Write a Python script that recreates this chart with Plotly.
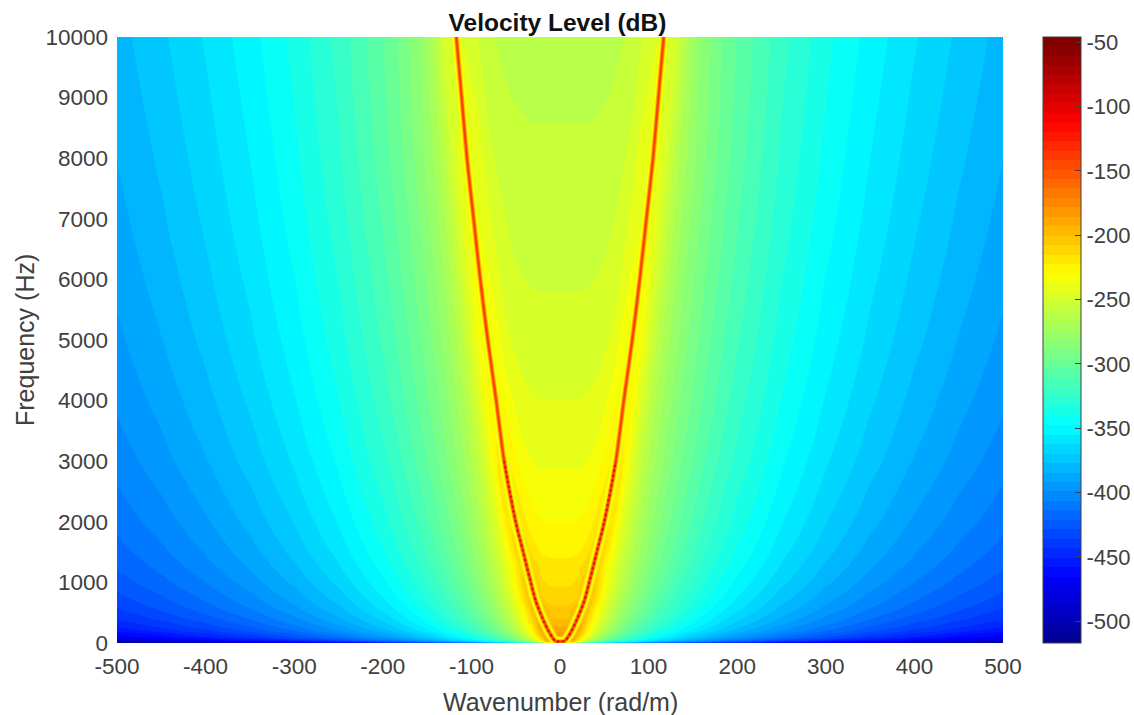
import plotly.graph_objects as go

# wavenumber columns (rad/m), non-negative half; the picture is mirror symmetric
k_half = [0, 5, 10, 20, 30, 40, 50, 60, 70, 80, 90, 100, 110, 120, 130, 140, 155, 170, 185, 200, 250, 300, 350, 400, 450, 500]
freq = [0, 16, 50, 100, 200, 280, 400, 550, 700, 1000, 1250, 1500, 2000, 3000, 4000, 5000, 6500, 8000, 10000]

# level (dB), one list per frequency
lv_0 = [-180, -200, -280, -340, -370, -390, -405, -415, -425, -430, -436, -440, -444, -447, -450, -453, -457, -460, -463, -466, -477, -485, -493, -500, -507, -514]
lv_16 = [-141, -125, -183.2, -240.4, -273.9, -297.6, -316, -331, -343.8, -354.8, -364.5, -373.2, -381.1, -388.2, -394.8, -401, -409.4, -417, -424, -430.4, -448.8, -463.8, -476.6, -487.6, -497.3, -506]
lv_50 = [-163, -160, -150, -217.4, -251.4, -275.1, -293.5, -308.5, -321.3, -332.3, -342, -350.7, -358.6, -365.7, -372.3, -378.5, -386.9, -394.5, -401.5, -407.9, -426.3, -441.3, -454.1, -465.1, -474.8, -483.5]
lv_100 = [-176, -175.5, -158, -202.5, -237.4, -261.6, -280, -295, -307.8, -318.8, -328.5, -337.2, -345.1, -352.2, -358.8, -365, -373.4, -381, -388, -394.4, -412.8, -427.8, -440.6, -451.6, -461.3, -470]
lv_200 = [-188, -188, -179, -187, -222.5, -247.5, -266.5, -281.5, -294.3, -305.3, -315, -323.7, -331.6, -338.7, -345.3, -351.5, -359.9, -367.5, -374.5, -380.9, -399.3, -414.3, -427.1, -438.1, -447.8, -456.5]
lv_280 = [-194.5, -194.5, -190.5, -178, -216.4, -240.9, -259.9, -274.9, -287.7, -298.7, -308.4, -317.1, -325, -332.1, -338.7, -344.9, -353.3, -360.9, -367.9, -374.3, -392.7, -407.7, -420.5, -431.5, -441.2, -449.9]
lv_400 = [-201, -201, -200.5, -184, -207, -232.2, -252, -267.5, -280.8, -291.8, -301.5, -310.2, -318.1, -325.2, -331.8, -338, -346.4, -354, -361, -367.4, -385.8, -400.8, -413.6, -424.6, -434.3, -443]
lv_550 = [-205.7, -205.7, -205.2, -190.7, -195, -225.7, -245.6, -261.1, -274.5, -285.5, -295.2, -303.9, -311.8, -318.9, -325.5, -331.7, -340.1, -347.7, -354.7, -361.1, -379.5, -394.5, -407.3, -418.3, -428, -436.7]
lv_700 = [-210.5, -210.5, -210.4, -206.5, -192.5, -214.6, -239, -255.6, -269, -280.3, -290.2, -299.2, -307.1, -314.2, -320.8, -327, -335.4, -343, -350, -356.4, -374.8, -389.8, -402.6, -413.6, -423.3, -432]
lv_1000 = [-216.5, -216.5, -216.5, -214.2, -199, -205, -228.8, -247.3, -261.4, -272.9, -283, -291.9, -300.1, -307.2, -313.8, -320, -328.4, -336, -343, -349.4, -367.8, -382.8, -395.6, -406.6, -416.3, -425]
lv_1250 = [-220.5, -220.5, -220.5, -218.6, -208.7, -202.5, -223.6, -242.6, -256.9, -268.5, -278.6, -287.5, -295.7, -302.8, -309.4, -315.6, -324, -331.6, -338.6, -345, -363.4, -378.4, -391.2, -402.2, -411.9, -420.6]
lv_1500 = [-224, -224, -224, -223.2, -219.4, -206, -212, -234.3, -251.1, -263.8, -274.2, -283.3, -291.6, -298.9, -305.8, -312, -320.4, -328, -335, -341.4, -359.8, -374.8, -387.6, -398.6, -408.3, -417]
lv_2000 = [-230, -230, -230, -229.6, -227.5, -221.1, -212, -219.5, -242.3, -256.4, -267.6, -277.2, -285.6, -293, -299.9, -306.2, -314.9, -322.5, -329.5, -335.9, -354.3, -369.3, -382.1, -393.1, -402.8, -411.5]
lv_3000 = [-238.5, -238.5, -238.5, -238.5, -237.5, -235.1, -229, -220.5, -220.5, -241.3, -256, -267, -276.1, -284.1, -291.2, -297.7, -306.4, -314.2, -321.5, -327.9, -346.3, -361.3, -374.1, -385.1, -394.8, -403.5]
lv_4000 = [-244.5, -244.5, -244.5, -244.5, -244, -242.6, -239.5, -232.7, -226.5, -226.5, -243.9, -257.9, -268.4, -277.1, -284.5, -291.4, -300.3, -308.3, -315.5, -322, -340.7, -355.7, -368.5, -379.5, -389.2, -397.9]
lv_5000 = [-249.5, -249.5, -249.5, -249.5, -249.3, -248.4, -246.6, -243.2, -235, -231, -231, -247, -261, -270.7, -278.7, -286, -295.3, -303.5, -310.8, -317.4, -336.3, -351.3, -364.1, -375.1, -384.8, -393.5]
lv_6500 = [-254.2, -254.2, -254.2, -254.2, -254.2, -253.7, -252.7, -250.7, -246.8, -239.7, -236, -236, -247, -260, -270.6, -278.7, -288.8, -297.4, -305, -311.8, -330.9, -346.2, -359, -370, -379.7, -388.4]
lv_8000 = [-257.9, -257.9, -257.9, -257.9, -257.9, -257.5, -256.9, -255.4, -253.3, -249.7, -242, -240, -240, -248.2, -262, -271.7, -283, -292.4, -300.4, -307.3, -326.8, -342.2, -355, -366, -375.7, -384.4]
lv_10000 = [-263, -263, -263, -263, -263, -262.8, -262.5, -261.7, -260, -258, -254, -247.3, -245, -245, -246.8, -263, -279, -288, -297, -304, -323, -338, -350.6, -361.6, -371.3, -380]

rows = [lv_0, lv_16, lv_50, lv_100, lv_200, lv_280, lv_400, lv_550, lv_700, lv_1000, lv_1250, lv_1500, lv_2000,
        lv_3000, lv_4000, lv_5000, lv_6500, lv_8000, lv_10000]

# the sharp resonance ridge
ridge_f = [10000, 9000, 8000, 7000, 6000, 5000, 4000, 3000, 2000, 1500, 1000, 700, 400, 200, 100, 50, 30]
ridge_k = [117, 111, 105, 97.5, 90, 81.5, 72, 63, 50, 41.5, 33, 27.5, 19.5, 13, 9, 6.5, 4.5]

x_ticks = [-500, -400, -300, -200, -100, 0, 100, 200, 300, 400, 500]
y_ticks = [0, 1000, 2000, 3000, 4000, 5000, 6000, 7000, 8000, 9000, 10000]
cbar_ticks = [-50, -100, -150, -200, -250, -300, -350, -400, -450, -500]

jet = [[0, "rgb(0,0,143)"], [0.111, "rgb(0,0,255)"], [0.365, "rgb(0,255,255)"],
       [0.619, "rgb(255,255,0)"], [0.873, "rgb(255,0,0)"], [1, "rgb(128,0,0)"]]

k_all = [-v for v in k_half[:0:-1]] + k_half
z_all = [r[:0:-1] + r for r in rows]

FONT = "Liberation Sans, Arial, sans-serif"
GREY = "#404040"

fig = go.Figure()
fig.add_trace(go.Contour(
    x=k_all, y=freq, z=z_all, colorscale=jet, zmin=-517, zmax=-46, autocontour=False,
    contours=dict(start=-517, end=-46, size=7.36, coloring="fill", showlines=False),
    line=dict(width=0, smoothing=1.3), hoverinfo="skip",
    colorbar=dict(x=(1043 - 117) / 886, xanchor="left", y=0.5, yanchor="middle", len=1, lenmode="fraction",
                  thickness=38, thicknessmode="pixels", outlinecolor=GREY, outlinewidth=1,
                  tickmode="array", tickvals=cbar_ticks, ticktext=[str(v) for v in cbar_ticks],
                  ticks="inside", ticklen=6, tickcolor=GREY, tickwidth=1,
                  tickfont=dict(family=FONT, size=22, color=GREY), xpad=0, ypad=0),
))

ridge_x = [-v for v in ridge_k] + ridge_k[::-1]
ridge_y = ridge_f + ridge_f[::-1]
for width, colour in [(11, "rgba(225,255,20,0.6)"), (8, "rgb(255,255,0)"), (5, "rgb(255,195,0)"),
                      (3.2, "rgb(255,110,0)"), (1.6, "rgb(250,60,0)")]:
    fig.add_trace(go.Scatter(x=ridge_x, y=ridge_y, mode="lines", hoverinfo="skip", showlegend=False,
                             line=dict(color=colour, width=width, shape="spline", smoothing=0.8)))
# the sampled ridge shows as dark red dots near the bottom
fig.add_trace(go.Scatter(x=ridge_x[7:-7], y=ridge_y[7:-7], mode="lines", hoverinfo="skip", showlegend=False,
                         line=dict(color="rgb(215,25,0)", width=2.4, shape="spline", smoothing=0.8,
                                   dash="2px,3px")))

fig.update_layout(
    width=1134, height=715, autosize=False, showlegend=False,
    paper_bgcolor="white", plot_bgcolor="white",
    margin=dict(l=117, r=131, t=37, b=72, autoexpand=False),
    title=dict(text="<b>Velocity Level (dB)</b>", x=557.5 / 1134, xanchor="center", y=1 - 22 / 715, yanchor="middle",
               font=dict(family=FONT, size=24.5, color="#111111")),
    xaxis=dict(range=[-500, 500], tickmode="array", tickvals=x_ticks, ticktext=[str(v) for v in x_ticks],
               ticks="", showgrid=False, zeroline=False, showline=False, automargin=False,
               ticklabelstandoff=7, tickfont=dict(family=FONT, size=22.5, color=GREY)),
    yaxis=dict(range=[0, 10000], tickmode="array", tickvals=y_ticks, ticktext=[str(v) for v in y_ticks],
               ticks="", showgrid=False, zeroline=False, showline=False, automargin=False,
               ticklabelstandoff=8, tickfont=dict(family=FONT, size=22.5, color=GREY)),
    annotations=[
        dict(text="Wavenumber (rad/m)", xref="paper", yref="paper", x=0.5, y=-(702 - 643) / 606,
             xanchor="center", yanchor="middle", showarrow=False, font=dict(family=FONT, size=25, color=GREY)),
        dict(text="Frequency (Hz)", xref="paper", yref="paper", x=-(117 - 25) / 886, y=(643 - 340) / 606,
             xanchor="center", yanchor="middle", textangle=-90, showarrow=False,
             font=dict(family=FONT, size=25, color=GREY)),
    ],
)

fig.write_html("out.html", config={"displayModeBar": False},
               post_script="document.body.style.margin='0';")
